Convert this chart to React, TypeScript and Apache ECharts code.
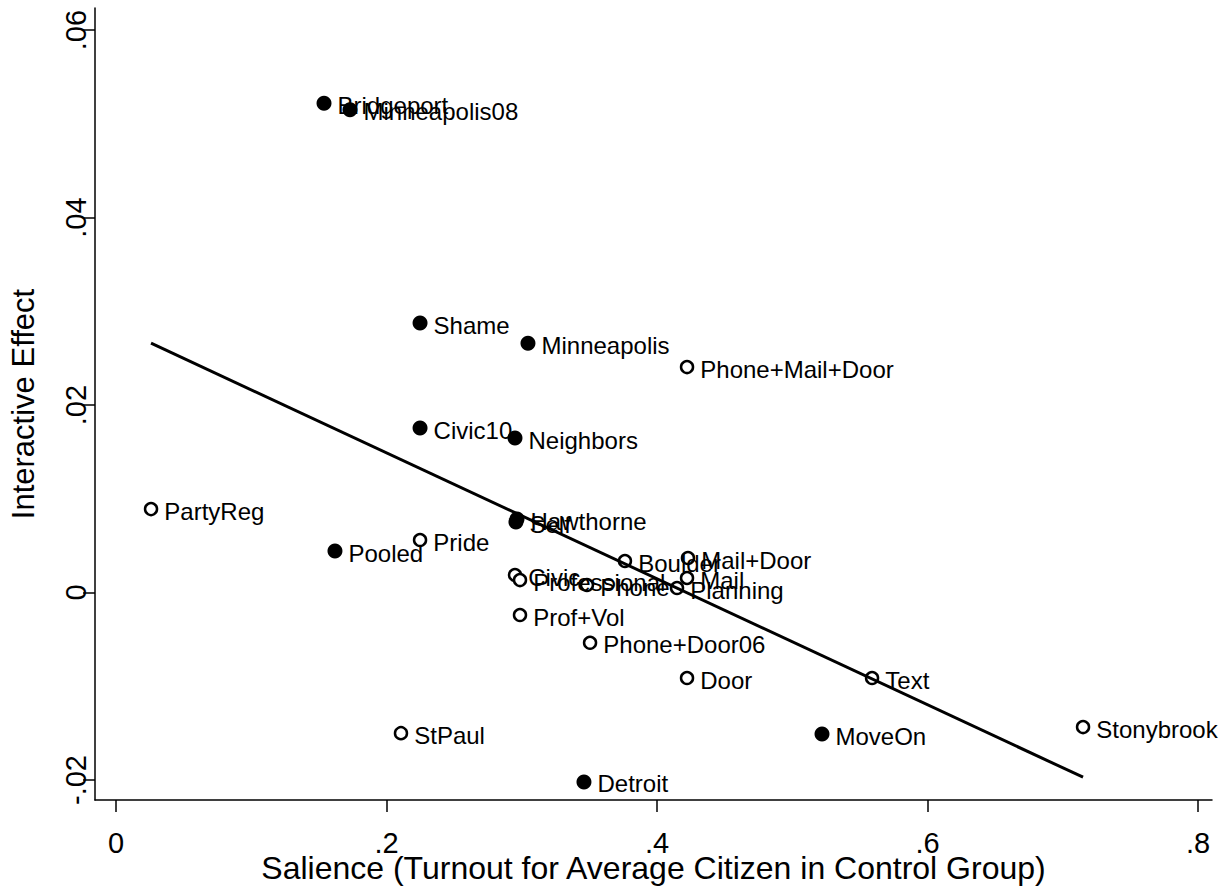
import React, { useEffect, useRef } from "react";
import * as echarts from "echarts";

const names = [
  "Bridgeport", "Minneapolis08", "Shame", "Minneapolis", "Phone+Mail+Door",
  "Civic10", "Neighbors", "PartyReg", "Hawthorne", "Self", "Pride", "Pooled",
  "Boulder", "Mail+Door", "Civic", "Professional", "Phone", "Mail", "Planning",
  "Prof+Vol", "Phone+Door06", "Door", "Text", "MoveOn", "StPaul", "Stonybrook", "Detroit",
];
const salience = [
  0.1538, 0.173, 0.2248, 0.3046, 0.4222,
  0.2248, 0.295, 0.0259, 0.2965, 0.2957, 0.2248, 0.1619,
  0.3763, 0.4229, 0.295, 0.2987, 0.3482, 0.4222, 0.4148,
  0.2987, 0.3505, 0.4222, 0.559, 0.522, 0.2107, 0.715, 0.346,
];
const effect = [
  0.0522, 0.0515, 0.02875, 0.0266, 0.02405,
  0.01755, 0.01648, 0.0089, 0.00784, 0.00752, 0.0056, 0.00443,
  0.00336, 0.00368, 0.00187, 0.00133, 0.0008, 0.00155, 0.00048,
  -0.0024, -0.00536, -0.00912, -0.00912, -0.0151, -0.015, -0.01435, -0.0202,
];
const filled = [
  true, true, true, true, false,
  true, true, false, true, true, false, true,
  false, false, false, false, false, false, false,
  false, false, false, false, true, false, false, true,
];
const fitX = [0.0259, 0.715];
const fitY = [0.0266, -0.0197];
const xTicks = [0, 0.2, 0.4, 0.6, 0.8];
const yTicks = [-0.02, 0, 0.02, 0.04, 0.06];

const FONT = "Liberation Sans";
const fmt = (v: number) => (v === 0 ? "0" : String(v).replace("0.", "."));

export default function App() {
  const ref = useRef<HTMLDivElement>(null);
  useEffect(() => {
    if (!ref.current) return;
    const chart = echarts.init(ref.current, null, { renderer: "svg" });
    const filledData: any[] = [];
    const hollowData: any[] = [];
    names.forEach((n, i) => {
      const d = { name: n, value: [salience[i], effect[i]] };
      (filled[i] ? filledData : hollowData).push(d);
    });
    const label = {
      show: true,
      position: "right",
      distance: 6,
      formatter: (p: any) => p.name,
      fontFamily: FONT,
      fontSize: 24,
      color: "#000",
      offset: [0, 2],
    };
    chart.setOption({
      animation: false,
      backgroundColor: "#fff",
      grid: { left: 95, right: 13, top: 8, bottom: 86, outerBoundsMode: "none", containLabel: false },
      xAxis: {
        type: "value",
        min: -0.01553,
        max: 0.81035,
        name: "Salience (Turnout for Average Citizen in Control Group)",
        nameLocation: "middle",
        nameGap: 52,
        nameMoveOverlap: false,
        nameTextStyle: { fontFamily: FONT, fontSize: 32, color: "#000", lineHeight: 32 },
        axisLine: { show: true, onZero: false, lineStyle: { color: "#000", width: 1.5 } },
        axisTick: { show: true, customValues: xTicks, length: 12, lineStyle: { color: "#000", width: 1.5 } },
        axisLabel: { customValues: xTicks, formatter: fmt, fontFamily: FONT, fontSize: 29, lineHeight: 26, color: "#000", margin: 30 },
        splitLine: { show: false },
      },
      yAxis: {
        type: "value",
        min: -0.02213,
        max: 0.06235,
        name: "Interactive Effect",
        nameLocation: "middle",
        nameGap: 56,
        nameTextStyle: { fontFamily: FONT, fontSize: 31, color: "#000" },
        axisLine: { show: true, onZero: false, lineStyle: { color: "#000", width: 1.5 } },
        axisTick: { show: true, customValues: yTicks, length: 12, lineStyle: { color: "#000", width: 1.5 } },
        axisLabel: { customValues: yTicks, formatter: fmt, rotate: 90, fontFamily: FONT, fontSize: 29, color: "#000", margin: 5 },
        splitLine: { show: false },
      },
      series: [
        {
          type: "scatter",
          data: hollowData,
          symbol: "circle",
          symbolSize: 12,
          itemStyle: { color: "#fff", borderColor: "#000", borderWidth: 2.5, opacity: 1 },
          label,
          z: 2,
        },
        {
          type: "scatter",
          data: filledData,
          symbol: "circle",
          symbolSize: 15,
          itemStyle: { color: "#000", opacity: 1 },
          label,
          z: 2,
        },
        {
          type: "line",
          data: fitX.map((x, i) => [x, fitY[i]]),
          symbol: "none",
          lineStyle: { color: "#000", width: 3 },
          z: 3,
        },
      ],
    });
    return () => chart.dispose();
  }, []);
  return (
    <div
      ref={ref}
      style={{ position: "fixed", left: 0, top: 0, width: 1225, height: 886, background: "#fff" }}
    />
  );
}
